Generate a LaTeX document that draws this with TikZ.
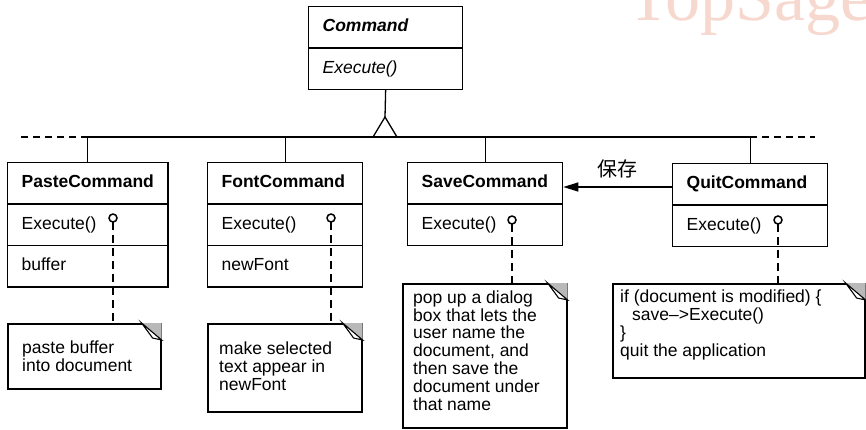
\documentclass[tikz,border=0pt]{standalone}
\usepackage{fontspec}
\setmainfont{Liberation Sans}
\newfontfamily\cjk{Noto Sans CJK SC}
\newfontfamily\markfont{Liberation Serif}
\usetikzlibrary{arrows.meta,shapes.multipart,positioning}
\definecolor{stamp}{RGB}{246,216,206}
\newcommand{\cell}[1]{\raisebox{0pt}[10.5pt][2pt]{#1}}

\begin{document}
\begin{tikzpicture}[x=1pt,y=-1pt,
    every node/.style={font=\fontsize{17.5}{17.8}\selectfont},
    cls/.style={draw,line width=1.3pt,rectangle split,rectangle split parts=3,
        rectangle split part align=left,minimum width=155pt,
        inner xsep=14pt,inner ysep=13.8pt,anchor=north west},
    notebox/.style={draw,line width=1.6pt,anchor=north west,inner sep=0pt},
    notetext/.style={anchor=base west,align=left,inner sep=0pt},
    wire/.style={line width=1.3pt},
    pinline/.style={line width=1.6pt,dash pattern=on 8pt off 5pt},
    pinhead/.style={line width=1.5pt,fill=white}]
    \useasboundingbox (0,0) rectangle (866,429);
    % watermark
    \node[anchor=base west,inner sep=0pt,text=stamp,font=\markfont\fontsize{70}{70}\selectfont] (mark) at (627,20) {TopSage};
    % abstract class
    \node[cls,rectangle split parts=2,minimum width=154pt] (cmd) at (308,6)
        {\cell{\textbf{\textit{Command}}} \nodepart{two} \cell{\textit{Execute()}}};
    % concrete classes
    \node[cls] (paste) at (7,162)
        {\cell{\textbf{PasteCommand}} \nodepart{two} \cell{Execute()} \nodepart{three} \cell{buffer}};
    \node[cls] (font) at (207,162)
        {\cell{\textbf{FontCommand}} \nodepart{two} \cell{Execute()} \nodepart{three} \cell{newFont}};
    \node[cls,rectangle split parts=2] (save) at (407,162)
        {\cell{\textbf{SaveCommand}} \nodepart{two} \cell{Execute()}};
    \node[cls,rectangle split parts=2] (quit) at (672,163)
        {\cell{\textbf{QuitCommand}} \nodepart{two} \cell{Execute()}};
    % inheritance
    \coordinate (apex) at (385,117);
    \coordinate (bus) at (385,137);
    \coordinate (busleft) at (20,137);
    \coordinate (busright) at (815,137);
    \draw[wire] (cmd.south) -- (apex);
    \draw[wire,fill=white] (apex) -- ([xshift=-12pt]bus) -- ([xshift=12pt]bus) -- cycle;
    \draw[wire] (paste.north) |- (quit.north |- bus) -- (quit.north);
    \draw[wire] (font.north) -- (font.north |- bus);
    \draw[wire] (save.north) -- (save.north |- bus);
    \draw[wire,dash pattern=on 7pt off 5pt] (paste.north |- bus) -- (busleft);
    \draw[wire,dash pattern=on 7pt off 5pt] (quit.north |- bus) -- (busright);
    % association
    \draw[wire,-{Triangle[length=15pt,width=9pt]}] (quit.west |- 0,187) -- (save.east |- 0,187)
        node[midway,above=5pt,font=\cjk\fontsize{20}{20}\selectfont] {保存};
    % notes
    \node[notebox,minimum width=153pt,minimum height=65pt] (pastenote) at (7,323) {};
    \node[notebox,minimum width=154pt,minimum height=88pt] (fontnote) at (207,323) {};
    \node[notebox,minimum width=164pt,minimum height=144pt] (savenote) at (402,283) {};
    \node[notebox,minimum width=252pt,minimum height=94pt] (quitnote) at (612,283) {};
    \foreach \n in {pastenote,fontnote,savenote,quitnote}{
        \fill[gray!55] ([xshift=-20pt]\n.north east) -- (\n.north east) -- ([yshift=-17pt]\n.north east) -- cycle;
        \filldraw[fill=white,line width=1.1pt] ([xshift=-20pt]\n.north east) -- ([xshift=-9pt,yshift=-15pt]\n.north east)
            -- ([yshift=-17pt]\n.north east) -- cycle;
    }
    \node[notetext] (pastetxt) at (22,371) {paste buffer\\into document};
    \node[notetext] (fonttxt) at (219,390) {make selected\\text appear in\\newFont};
    \node[notetext] (savetxt) at (413,410) {pop up a dialog\\box that lets the\\user name the\\document, and\\then save the\\document under\\that name};
    \node[notetext] (quittxt) at (620,356) {if (document is modified) \{\\\hspace*{12pt}save–>Execute()\\\}\\quit the application};
    % lollipops
    \coordinate (pastepin) at (113,218);
    \coordinate (fontpin) at (331,218);
    \coordinate (savepin) at (512,220);
    \coordinate (quitpin) at (778,220);
    \draw[pinline] ([yshift=-4pt]pastepin) -- (pastepin |- pastenote.north);
    \draw[pinline] ([yshift=-4pt]fontpin) -- (fontpin |- fontnote.north);
    \draw[pinline] ([yshift=-4pt]savepin) -- (savepin |- savenote.north);
    \draw[pinline] ([yshift=-4pt]quitpin) -- (quitpin |- quitnote.north);
    \foreach \p in {pastepin,fontpin,savepin,quitpin}
        \draw[pinhead] (\p) circle (4);
\end{tikzpicture}
\end{document}
